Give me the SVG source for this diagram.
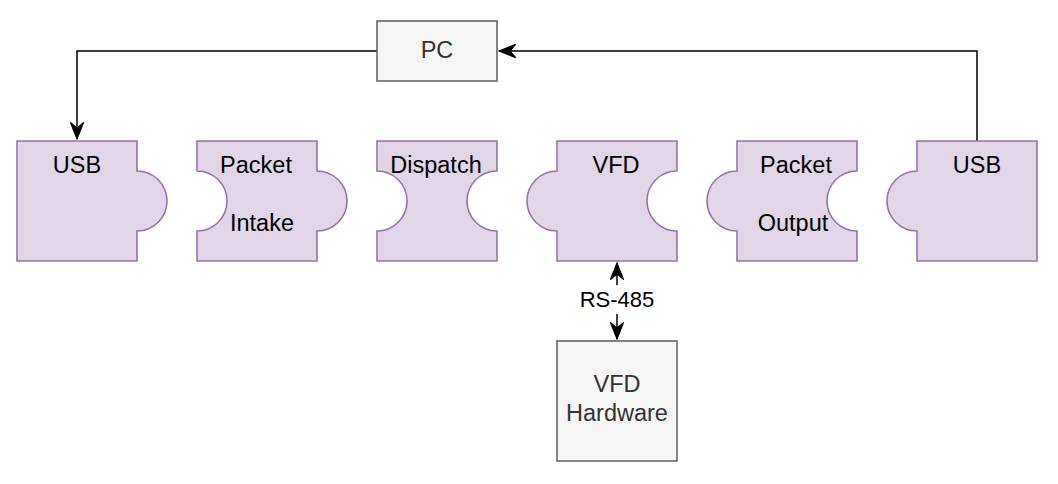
<svg xmlns="http://www.w3.org/2000/svg" width="1058" height="484" viewBox="0 0 1058 484">
<style>
.pz{fill:#e1d5e7;stroke:#9673a6;stroke-width:1.6}
.bx{fill:#f5f5f5;stroke:#666666;stroke-width:1.6}
.t{font-family:"Liberation Sans",Arial,sans-serif;font-size:23.5px;fill:#000;text-anchor:middle}
.tg{font-family:"Liberation Sans",Arial,sans-serif;font-size:23.5px;fill:#333333;text-anchor:middle}
.lb{font-family:"Liberation Sans",Arial,sans-serif;font-size:22px;fill:#000;text-anchor:middle}
.c{fill:none;stroke:#000;stroke-width:1.5}
</style>
<defs>
<marker id="ah" markerUnits="userSpaceOnUse" markerWidth="20" markerHeight="20" viewBox="-16 -8 18 16" refX="0" refY="0" orient="auto">
<path d="M0,0 L-15,-6 L-10,0 L-15,6 Z" fill="#000" stroke="#000" stroke-width="1"/>
</marker>
</defs>
<rect x="0" y="0" width="1058" height="484" fill="#ffffff"/>
<g id="connectors">
<path class="c" d="M377,51 H77 V139" marker-end="url(#ah)"/>
<path class="c" d="M977,141 V51 H499" marker-end="url(#ah)"/>
<path class="c" d="M617,285 V263" marker-end="url(#ah)"/>
<path class="c" d="M617,314 V339" marker-end="url(#ah)"/>
<text class="lb" x="617" y="307">RS-485</text>
</g>
<g id="pc">
<rect class="bx" x="377" y="21" width="120" height="60"/>
<text class="tg" x="437" y="58">PC</text>
</g>
<g id="usb-in">
<path class="pz" d="M17,141 H137 V171 A30,30 0 0 1 137,231 V261 H17 Z"/>
<text class="t" x="77" y="173">USB</text>
</g>
<g id="packet-intake">
<path class="pz" d="M197,141 H317 V171 A30,30 0 0 1 317,231 V261 H197 V231 A30,30 0 0 0 197,171 Z"/>
<text class="t" x="256" y="173">Packet</text>
<text class="t" x="262" y="231">Intake</text>
</g>
<g id="dispatch">
<path class="pz" d="M377,141 H497 V171 A30,30 0 0 0 497,231 V261 H377 V231 A30,30 0 0 0 377,171 Z"/>
<text class="t" x="436" y="173">Dispatch</text>
</g>
<g id="vfd">
<path class="pz" d="M557,141 H677 V171 A30,30 0 0 0 677,231 V261 H557 V231 A30,30 0 0 1 557,171 Z"/>
<text class="t" x="616" y="173">VFD</text>
</g>
<g id="packet-output">
<path class="pz" d="M737,141 H857 V171 A30,30 0 0 0 857,231 V261 H737 V231 A30,30 0 0 1 737,171 Z"/>
<text class="t" x="796" y="173">Packet</text>
<text class="t" x="793" y="231">Output</text>
</g>
<g id="usb-out">
<path class="pz" d="M917,141 H1037 V261 H917 V231 A30,30 0 0 1 917,171 Z"/>
<text class="t" x="977" y="173">USB</text>
</g>
<g id="vfd-hardware">
<rect class="bx" x="557" y="341" width="120" height="120"/>
<text class="tg" x="617" y="392">VFD</text>
<text class="tg" x="617" y="421">Hardware</text>
</g>
</svg>
